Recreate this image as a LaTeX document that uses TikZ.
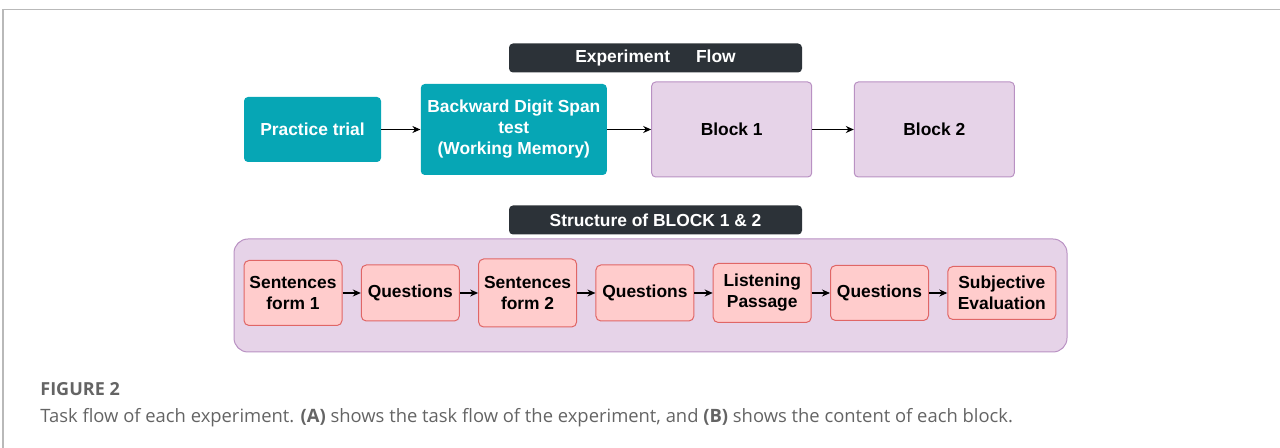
\documentclass[tikz,border=0pt]{standalone}
\usepackage{fontspec}
\setmainfont{Liberation Sans}
\newfontfamily\capfont{Open Sans}
\usetikzlibrary{arrows.meta,positioning}
\definecolor{tealbox}{RGB}{6,166,181}
\definecolor{darkbar}{RGB}{44,50,56}
\definecolor{lilacfill}{RGB}{230,211,232}
\definecolor{lilacline}{RGB}{185,145,195}
\definecolor{pinkfill}{RGB}{255,204,204}
\definecolor{pinkline}{RGB}{224,102,102}
\definecolor{capgray}{RGB}{100,100,100}
\tikzset{
  diag/.style={font=\fontsize{8.7}{10.5}\selectfont\bfseries, align=center, inner sep=2pt},
  taskbox/.style={diag, fill=tealbox, text=white, rounded corners=2pt},
  blockbox/.style={diag, draw=lilacline, fill=lilacfill, line width=0.5pt, rounded corners=2pt, minimum width=80pt, minimum height=47.5pt},
  titlebar/.style={diag, fill=darkbar, text=white, rounded corners=2pt, minimum width=146.5pt, minimum height=14.5pt},
  stepbox/.style={diag, draw=pinkline, fill=pinkfill, line width=0.5pt, rounded corners=2.5pt, minimum width=49pt},
  edge/.style={-{Stealth[length=4pt,width=3.5pt]}, line width=0.6pt},
  captext/.style={anchor=base west, inner sep=0pt, text=capgray}
}

\begin{document}
\begin{tikzpicture}[x=0.5pt, y=-0.5pt, node distance=9.15pt]
\useasboundingbox (0,0) rectangle (1280,448);
% page frame
\draw[gray!55, line width=0.8pt] (3,448) -- (3,9.5) -- (1280,9.5);

% experiment flow
\node[titlebar] (flowtitle) at (655.5,58) {Experiment\hspace{13pt}Flow};
\node[taskbox, minimum width=68.5pt, minimum height=32.5pt] (practice) at (312.5,129.5) {Practice trial};
\node[taskbox, minimum width=93pt, minimum height=45.5pt, right=19.5pt of practice] (digit) {Backward Digit Span\\test\\(Working Memory)};
\node[blockbox, right=22pt of digit] (blockone) {Block 1};
\node[blockbox, right=20.8pt of blockone] (blocktwo) {Block 2};

\draw[edge] (practice) -- (digit);
\draw[edge] (digit) -- (blockone);
\draw[edge] (blockone) -- (blocktwo);

% structure of one block
\node[titlebar] (structtitle) at (655.5,220) {Structure of BLOCK 1 \& 2};
\node[draw=lilacline, fill=lilacfill, line width=0.5pt, rounded corners=7pt, minimum width=416.5pt, minimum height=56.5pt] (blockframe) at (650.5,295.5) {};
\node[stepbox, minimum height=32.5pt] (sentone) at (293,293) {Sentences\\form 1};
\node[stepbox, minimum height=28pt, right=of sentone] (questone) {Questions};
\node[stepbox, minimum height=34pt, right=of questone] (senttwo) {Sentences\\form 2};
\node[stepbox, minimum height=28pt, right=of senttwo] (questtwo) {Questions};
\node[stepbox, minimum height=29.5pt, right=of questtwo] (listen) {Listening\\Passage};
\node[stepbox, minimum height=27.5pt, right=of listen] (questthree) {Questions};
\node[stepbox, minimum width=54pt, minimum height=26.5pt, right=of questthree] (subjective) {Subjective\\Evaluation};

\draw[edge] (sentone) -- (questone);
\draw[edge] (questone) -- (senttwo);
\draw[edge] (senttwo) -- (questtwo);
\draw[edge] (questtwo) -- (listen);
\draw[edge] (listen) -- (questthree);
\draw[edge] (questthree) -- (subjective);

% caption
\node[captext, font=\capfont\fontsize{9}{10}\selectfont\bfseries] (figlabel) at (40,396) {FIGURE 2};
\node[captext, font=\capfont\fontsize{9.2}{11}\selectfont] (figcaption) at (40,423) {Task flow of each experiment. \textbf{(A)} shows the task flow of the experiment, and \textbf{(B)} shows the content of each block.};
\end{tikzpicture}
\end{document}
